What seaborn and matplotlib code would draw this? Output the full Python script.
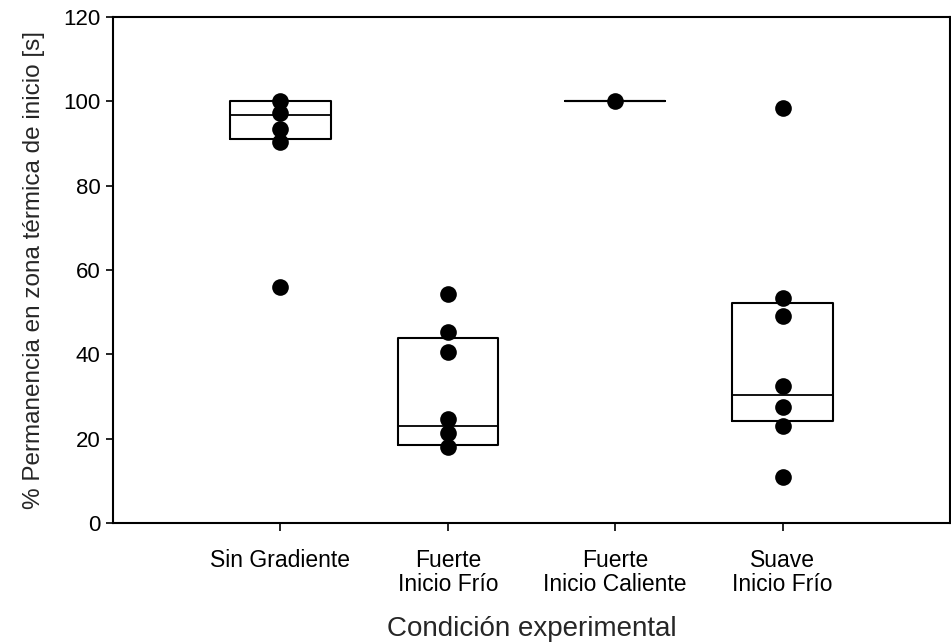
# -*- coding: utf-8 -*-
"""
Permanencia en zona térmica de inicio por condición experimental.
Cajas (percentiles 25/50/75) con los valores individuales encima.
"""

import matplotlib
matplotlib.use("Agg")
import numpy as np
import pandas as pd
import matplotlib.pyplot as plt
import seaborn as sns

conditions = [
    "Sin Gradiente",
    "Fuerte\nInicio Frío",
    "Fuerte\nInicio Caliente",
    "Suave\nInicio Frío",
]

# individual values
sin_gradiente = [100.0, 97.2, 93.4, 90.3, 55.9]
fuerte_frio = [54.2, 45.2, 40.6, 24.6, 21.4, 18.1]
fuerte_caliente = [100.0]
suave_frio = [98.5, 53.3, 49.2, 32.6, 27.6, 23.0, 11.0]

# box statistics as drawn in the original (no whiskers)
box_q1 = [91.0, 18.5, 100.0, 24.2]
box_median = [96.8, 23.0, 100.0, 30.4]
box_q3 = [100.1, 43.9, 100.0, 52.2]

y_ticks = [0, 20, 40, 60, 80, 100, 120]


def build_frame() -> pd.DataFrame:
    """Long-format table of the individual points."""
    groups = [sin_gradiente, fuerte_frio, fuerte_caliente, suave_frio]
    rows = []
    for cond, values in zip(conditions, groups):
        for v in values:
            rows.append({"condicion": cond, "permanencia": v})
    return pd.DataFrame(rows)


def plot(df: pd.DataFrame, save_path: str = "out.png") -> None:
    sns.set_style("ticks")
    plt.rcParams["font.family"] = ["Liberation Sans", "DejaVu Sans"]

    fig = plt.figure(figsize=(9.51, 6.44), dpi=100)
    ax = fig.add_axes([0.1188, 0.1879, 0.8802, 0.7857])

    stats = []
    for q1, med, q3 in zip(box_q1, box_median, box_q3):
        stats.append({"q1": q1, "med": med, "q3": q3,
                      "whislo": q1, "whishi": q3, "fliers": []})
    ax.bxp(
        stats,
        positions=np.arange(len(conditions)),
        widths=0.6,
        showcaps=False,
        showfliers=False,
        manage_ticks=False,
        boxprops={"color": "black", "linewidth": 1.5},
        medianprops={"color": "black", "linewidth": 1.3},
        whiskerprops={"linewidth": 0},
        zorder=2,
    )

    sns.stripplot(
        data=df,
        x="condicion",
        y="permanencia",
        order=conditions,
        jitter=False,
        color="black",
        size=12,
        linewidth=0,
        zorder=3,
        ax=ax,
    )

    ax.set_xlim(-1.0, 4.0)
    ax.set_ylim(0, 120)
    ax.set_yticks(y_ticks)
    ax.set_xticks(range(len(conditions)))
    ax.set_xticklabels(conditions, linespacing=1.05)

    for side in ["left", "right", "top", "bottom"]:
        ax.spines[side].set_visible(True)
        ax.spines[side].set_linewidth(1.5)
        ax.spines[side].set_color("black")

    ax.tick_params(axis="y", direction="out", length=5, width=1.2,
                   labelsize=16, pad=4, colors="black")
    ax.tick_params(axis="x", direction="out", length=6, width=1.2,
                   labelsize=16.5, pad=13, colors="black")

    ax.set_xlabel("Condición experimental", fontsize=20, labelpad=14)
    ax.set_ylabel("% Permanencia en zona térmica de inicio [s]", fontsize=17.5,
                  labelpad=13)

    fig.savefig(save_path, dpi=100, facecolor="white")
    plt.close(fig)


def main():
    df = build_frame()
    plot(df)


if __name__ == "__main__":
    main()
